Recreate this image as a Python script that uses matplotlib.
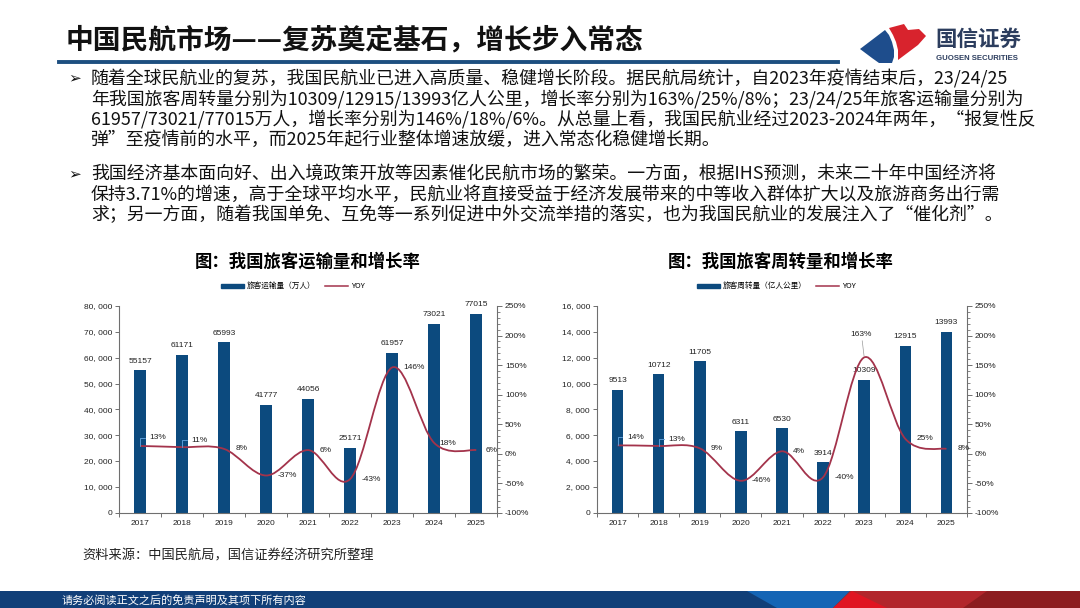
import numpy as np
import matplotlib
matplotlib.use("Agg")
import matplotlib.pyplot as plt
from matplotlib.path import Path
from matplotlib.patches import PathPatch, Polygon, Rectangle
from matplotlib.lines import Line2D
from matplotlib.ticker import MultipleLocator, FuncFormatter

plt.rcParams['font.family'] = ['Noto Sans CJK SC', 'DejaVu Sans']
plt.rcParams['axes.unicode_minus'] = False

# ---- data ----
years = ['2017', '2018', '2019', '2020', '2021', '2022', '2023', '2024', '2025']
pax_volume = [55157, 61171, 65993, 41777, 44056, 25171, 61957, 73021, 77015]       # 万人
pax_volume_yoy = [13, 11, 8, -37, 6, -43, 146, 18, 6]                              # %
pax_turnover = [9513, 10712, 11705, 6311, 6530, 3914, 10309, 12915, 13993]         # 亿人公里
pax_turnover_yoy = [14, 13, 9, -46, 4, -40, 163, 25, 8]                            # %

title = '中国民航市场——复苏奠定基石，增长步入常态'
para1 = [
    '随着全球民航业的复苏，我国民航业已进入高质量、稳健增长阶段。据民航局统计，自2023年疫情结束后，23/24/25',
    '年我国旅客周转量分别为10309/12915/13993亿人公里，增长率分别为163%/25%/8%；23/24/25年旅客运输量分别为',
    '61957/73021/77015万人，增长率分别为146%/18%/6%。从总量上看，我国民航业经过2023-2024年两年，“报复性反',
    '弹”至疫情前的水平，而2025年起行业整体增速放缓，进入常态化稳健增长期。',
]
para2 = [
    '我国经济基本面向好、出入境政策开放等因素催化民航市场的繁荣。一方面，根据IHS预测，未来二十年中国经济将',
    '保持3.71%的增速，高于全球平均水平，民航业将直接受益于经济发展带来的中等收入群体扩大以及旅游商务出行需',
    '求；另一方面，随着我国单免、互免等一系列促进中外交流举措的落实，也为我国民航业的发展注入了“催化剂”。',
]

BAR = '#0c4a7e'
LINE = '#a3334b'
AXC = '#6f6f6f'
NUMFONT = ['Liberation Sans', 'Noto Sans CJK SC']

W, H = 1080, 608
fig = plt.figure(figsize=(10.8, 6.08), dpi=100)


def fx(x):
    return x / W


def fy(y):
    return 1 - y / H


def poly(pts, color):
    fig.add_artist(Polygon([(fx(a), fy(b)) for a, b in pts], closed=True,
                           transform=fig.transFigure, color=color, lw=0))


def smooth_path(x, y):
    # catmull-rom -> cubic bezier, like excel "smoothed line"
    pts = np.column_stack([x, y]).astype(float)
    ext = np.vstack([pts[0], pts, pts[-1]])
    verts = [pts[0]]
    codes = [Path.MOVETO]
    for i in range(len(pts) - 1):
        p0, p1, p2, p3 = ext[i], ext[i + 1], ext[i + 2], ext[i + 3]
        verts += [p1 + (p2 - p0) / 6, p2 - (p3 - p1) / 6, p2]
        codes += [Path.CURVE4] * 3
    return Path(verts, codes)


def draw_chart(left, width, values, yoy, ymax, ystep, bar_name, offsets, legend_x):
    ax = fig.add_axes([left, fy(512.7), width, (512.7 - 306) / H])
    x = np.arange(len(years))
    ax.bar(x, values, width=0.28, color=BAR, zorder=2)
    ax.set_xlim(-0.5, len(years) - 0.5)
    ax.set_ylim(0, ymax)
    ax.yaxis.set_major_locator(MultipleLocator(ystep))
    ax.yaxis.set_major_formatter(FuncFormatter(lambda v, p: f'{v:,.0f}'.replace(',', ', ')))
    ax.set_xticks(x)
    ax.set_xticklabels(years)
    ax.set_xticks(np.arange(-0.5, len(years)), minor=True)
    ax.tick_params(axis='x', which='major', length=0, pad=5)
    ax.tick_params(axis='x', which='minor', length=3, color=AXC, width=0.7)
    ax.tick_params(axis='y', length=3, color=AXC, width=0.7, pad=2)
    for lab in ax.get_xticklabels() + ax.get_yticklabels():
        lab.set_fontsize(6)
        lab.set_family(NUMFONT)
        lab.set_color('#222222')
    for s in ['top', 'right']:
        ax.spines[s].set_visible(False)
    for s in ['left', 'bottom']:
        ax.spines[s].set_color(AXC)
        ax.spines[s].set_linewidth(0.8)
    for xi, v in zip(x, values):
        ax.annotate(f'{v}', (xi, v), xytext=(0, 4), textcoords='offset points',
                    ha='center', va='bottom', fontsize=6, family=NUMFONT, color='#222222')

    ax2 = ax.twinx()
    ax2.set_ylim(-100, 250)
    ax2.yaxis.set_major_locator(MultipleLocator(50))
    ax2.yaxis.set_minor_locator(MultipleLocator(10))
    ax2.yaxis.set_major_formatter(FuncFormatter(lambda v, p: f'{v:.0f}%'))
    ax2.tick_params(axis='y', which='major', length=3.5, color=AXC, width=0.7, pad=2)
    ax2.tick_params(axis='y', which='minor', length=1.8, color=AXC, width=0.6)
    for lab in ax2.get_yticklabels():
        lab.set_fontsize(6)
        lab.set_family(NUMFONT)
        lab.set_color('#222222')
    for s in ['top', 'left', 'bottom']:
        ax2.spines[s].set_visible(False)
    ax2.spines['right'].set_color(AXC)
    ax2.spines['right'].set_linewidth(0.8)
    ax2.add_patch(PathPatch(smooth_path(x, yoy), fill=False, edgecolor=LINE, lw=1.3, zorder=3))
    for xi, v, off in zip(x, yoy, offsets):
        kw = dict(textcoords='offset points', fontsize=6, family=NUMFONT, color='#222222')
        if off[1] > 12:
            # label above the peak with a leader line
            ax2.annotate(f'{v}%', (xi, v), xytext=off, ha='center', va='bottom', **kw,
                         arrowprops=dict(arrowstyle='-', color='#999999', lw=0.5, shrinkA=0, shrinkB=1))
        elif off[1] > 2:
            # moved label, small bracket back to the point
            ax2.annotate(f'{v}%', (xi, v), xytext=off, ha='left', va='center', **kw,
                         arrowprops=dict(arrowstyle='-', color='#5b9bd5', lw=0.7, shrinkA=1.5, shrinkB=0,
                                         connectionstyle='angle,angleA=0,angleB=90,rad=0'))
        else:
            ax2.annotate(f'{v}%', (xi, v), xytext=off, ha='left', va='center', **kw)

    handles = [Rectangle((0, 0), 1, 1, color=BAR), Line2D([], [], color=LINE, lw=1.1)]
    ax.legend(handles, [bar_name, 'YOY'], loc='center', bbox_to_anchor=(legend_x, 1.095),
              ncol=2, frameon=False, fontsize=5.5, handlelength=3.0, handleheight=0.45,
              columnspacing=1.2, handletextpad=0.4)
    return ax


vol_offsets = [(7, 6), (7, 5), (8, 0), (8, 0), (8, 0), (8, 0), (8, 0), (4, 0), (7, 0)]
turn_offsets = [(7, 6), (7, 5), (8, 0), (8, 0), (8, 0), (8, 0), (-2, 14), (8, 0), (8, 0)]

draw_chart(fx(119), (497.3 - 119) / W, pax_volume, pax_volume_yoy, 80000, 10000,
           '旅客运输量（万人）', vol_offsets, 0.46)
draw_chart(fx(597), (967 - 597) / W, pax_turnover, pax_turnover_yoy, 16000, 2000,
           '旅客周转量（亿人公里）', turn_offsets, 0.485)

# ---- header ----
fig.text(fx(66), fy(40), title, fontsize=20, fontweight='bold', va='center', ha='left', color='#111111')
fig.add_artist(Line2D([fx(59), fx(838)], [fy(62), fy(62)], color='#1d4f80', lw=2.8))

# logo
poly([(860, 49), (885, 30), (889, 35), (892, 42), (894, 50), (894, 57), (892, 63), (879, 63), (872, 58)], '#1e4d8c')
poly([(889, 28), (904, 24), (908, 30), (919, 29), (926, 36), (918, 45), (898, 60), (898, 50), (896, 42), (893, 35)],
     '#d8232d')
fig.text(fx(935), fy(39), '国信证券', fontsize=15.5, fontweight='bold', va='center', ha='left', color='#2c3d5e')
fig.text(fx(936), fy(58), 'GUOSEN SECURITIES', fontsize=5.6, fontweight='bold', va='center', ha='left',
         color='#2c3d5e', family=['Liberation Sans', 'DejaVu Sans'])

# ---- body text ----
for lines, y0 in [(para1, 78), (para2, 174)]:
    fig.text(fx(68), fy(y0), '➢', fontsize=11, va='center', ha='left', family=['DejaVu Sans'], color='#111111')
    for i, line in enumerate(lines):
        fig.text(fx(91), fy(y0 + i * 20.6), line, fontsize=12.9, fontweight='medium',
                 va='center', ha='left', color='#111111')

# chart titles
fig.text(fx(308), fy(262), '图：我国旅客运输量和增长率', fontsize=12.5, fontweight='bold', ha='center', va='center')
fig.text(fx(781), fy(262), '图：我国旅客周转量和增长率', fontsize=12.5, fontweight='bold', ha='center', va='center')

# source
fig.text(fx(82), fy(556), '资料来源：中国民航局，国信证券经济研究所整理', fontsize=9.5, ha='left', va='center', color='#222222')

# ---- footer band ----
poly([(0, 591), (1080, 591), (1080, 608), (0, 608)], '#113f78')
poly([(747, 591), (850, 591), (833, 608), (777, 608)], '#1565b5')
poly([(850, 591), (1080, 591), (1080, 608), (833, 608)], '#b2262c')
poly([(852, 591), (887, 608), (833, 608)], '#e01522')
poly([(987, 591), (1080, 591), (1080, 608), (963, 608)], '#8c1d20')
fig.text(fx(62), fy(600), '请务必阅读正文之后的免责声明及其项下所有内容', fontsize=8, ha='left', va='center', color='white')

fig.savefig('out.png', dpi=100)
